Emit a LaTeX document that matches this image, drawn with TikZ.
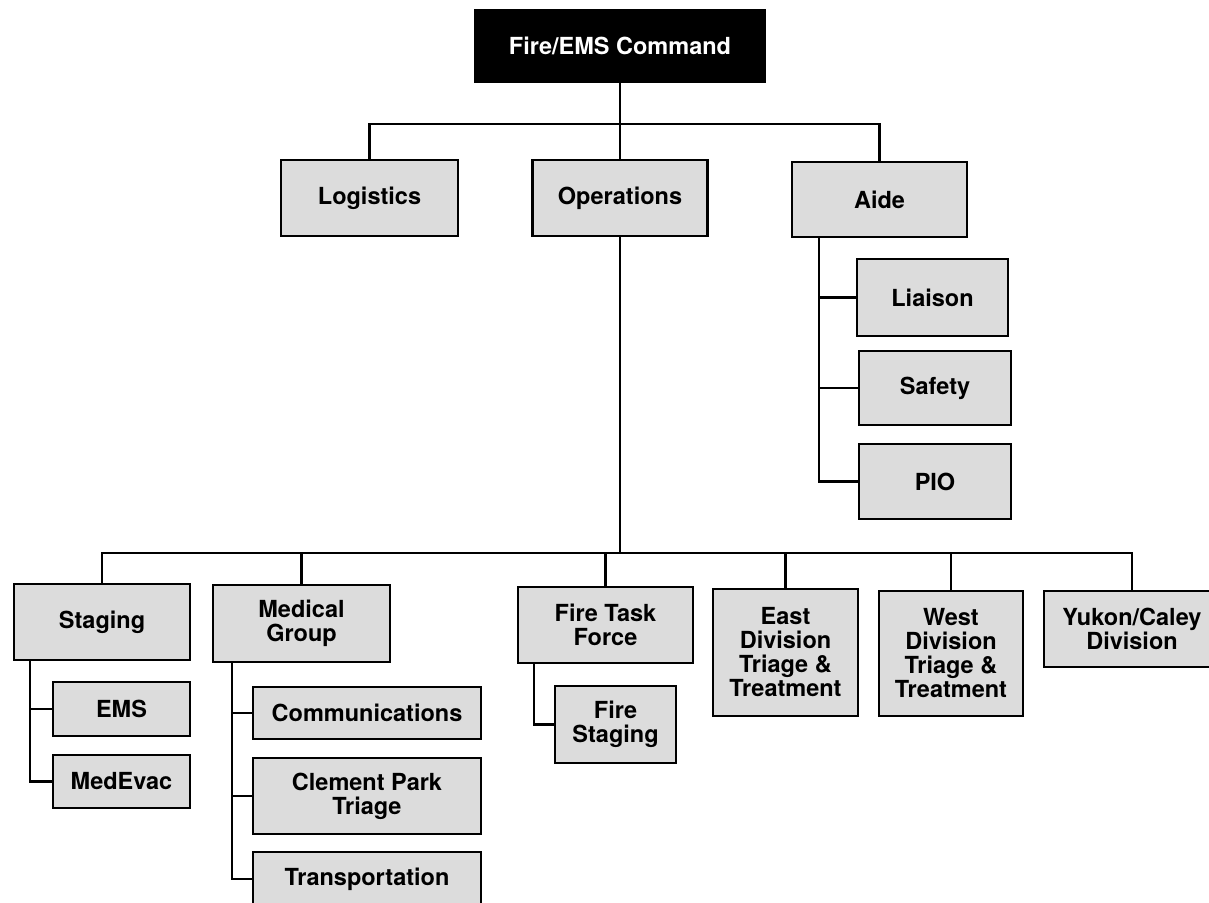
\documentclass[tikz,border=0pt]{standalone}
\usepackage{fontspec}
\setmainfont{TeX Gyre Heros}
\begin{document}
\begin{tikzpicture}[x=1pt,y=-1pt,
  box/.style={draw=black, line width=2.6pt, fill=boxgray, align=center,
    font=\fontsize{23.5}{24}\selectfont\bfseries, inner sep=0pt},
  cmdbox/.style={box, fill=black, text=white},
  conn/.style={line width=2.6pt, line cap=rect}]
\definecolor{boxgray}{HTML}{DCDCDC}
\useasboundingbox (0,0) rectangle (1209,902);
\clip (0,0) rectangle (1209,902);
\fill[white] (0,0) rectangle (1209,902);
% top level
\node[cmdbox, minimum width=290pt, minimum height=72pt] (cmd) at (620,46) {Fire/EMS Command};
\node[box, minimum width=177pt, minimum height=76pt] (log) at (369.5,198) {Logistics};
\node[box, minimum width=175pt, minimum height=76pt] (ops) at (620,198) {Operations};
\node[box, minimum width=175pt, minimum height=75pt] (aide) at (879.5,199.5) {Aide};
% aide children
\node[box, minimum width=151pt, minimum height=77pt] (liaison) at (932.5,297.5) {Liaison};
\node[box, minimum width=152pt, minimum height=74pt] (safety) at (935,388) {Safety};
\node[box, minimum width=152pt, minimum height=75pt] (pio) at (935,481.5) {PIO};
% bottom row
\node[box, minimum width=176pt, minimum height=76pt] (staging) at (102,622) {Staging};
\node[box, minimum width=177pt, minimum height=77pt] (medical) at (301.5,623.5) {Medical\\Group};
\node[box, minimum width=175pt, minimum height=76pt] (ftf) at (605.5,625) {Fire Task\\Force};
\node[box, minimum width=145pt, minimum height=127pt] (east) at (785.5,652.5) {East\\Division\\Triage \&\\Treatment};
\node[box, minimum width=144pt, minimum height=125pt] (west) at (951,653.5) {West\\Division\\Triage \&\\Treatment};
\node[box, minimum width=176pt, minimum height=76pt] (yukon) at (1132,629) {Yukon/Caley\\Division};
% children of bottom row
\node[box, minimum width=137pt, minimum height=54pt] (ems) at (121.5,709) {EMS};
\node[box, minimum width=137pt, minimum height=53pt] (medevac) at (121.5,781.5) {MedEvac};
\node[box, minimum width=228pt, minimum height=52pt] (comm) at (367,713) {Communications};
\node[box, minimum width=228pt, minimum height=76pt] (clement) at (367,796) {Clement Park\\Triage};
\node[box, minimum width=228pt, minimum height=54pt] (transp) at (367,879) {Transportation};
\node[box, minimum width=121pt, minimum height=77pt] (fstaging) at (615.5,724.5) {Fire\\Staging};
% bus coordinates
\coordinate (topbus) at (620,124);
\coordinate (botbus) at (620,553);
\coordinate (a0) at (819,237);
\coordinate (s0) at (30,660);
\coordinate (m0) at (232,662);
\coordinate (f0) at (534,663);
% connectors
\draw[conn] (cmd.south) -- (ops.north);
\draw[conn] (log.north) |- (topbus) -| (aide.north);
\draw[conn] (ops.south) -- (botbus);
\draw[conn] (staging.north) |- (botbus) -| (yukon.north);
\draw[conn] (medical.north) -- (medical.north |- botbus);
\draw[conn] (ftf.north) -- (ftf.north |- botbus);
\draw[conn] (east.north) -- (east.north |- botbus);
\draw[conn] (west.north) -- (west.north |- botbus);
\draw[conn] (a0) |- (pio.west);
\draw[conn] (liaison.west) -- (liaison.west -| a0);
\draw[conn] (safety.west) -- (safety.west -| a0);
\draw[conn] (s0) |- (medevac.west);
\draw[conn] (ems.west) -- (ems.west -| s0);
\draw[conn] (m0) |- (transp.west);
\draw[conn] (comm.west) -- (comm.west -| m0);
\draw[conn] (clement.west) -- (clement.west -| m0);
\draw[conn] (f0) |- (fstaging.west);
\end{tikzpicture}
\end{document}
